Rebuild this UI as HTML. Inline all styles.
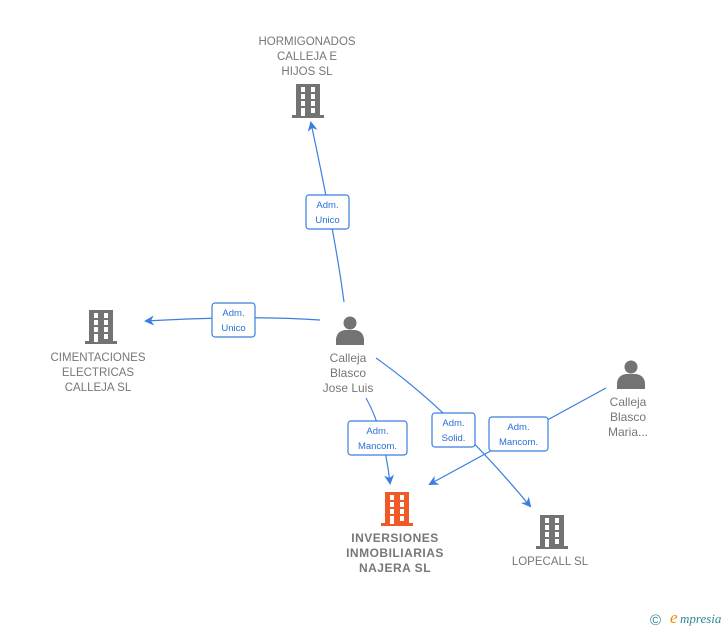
<!DOCTYPE html>
<html><head><meta charset="utf-8"><style>
html,body{margin:0;padding:0;background:#fff;width:728px;height:630px;overflow:hidden}
svg{display:block}
.t{font-family:"Liberation Sans",sans-serif;font-size:11.5px;fill:#777;text-anchor:middle}
.b{font-weight:bold;font-size:12px;letter-spacing:0.5px}
.l{font-family:"Liberation Sans",sans-serif;font-size:9.5px;fill:#2a6fd6;text-anchor:middle}
.e{fill:none;stroke:#3a7fe0;stroke-width:1.2}
.bx{fill:#fff;stroke:#3a7fe0;stroke-width:1.2}
</style></head><body>
<svg width="728" height="630" viewBox="0 0 728 630">
<defs>
<g id="bld">
<rect x="-12" y="0" width="24" height="33"/>
<rect x="-16" y="31" width="32" height="3"/>
<g fill="#fff">
<rect x="-7" y="3" width="4" height="5"/><rect x="3" y="3" width="4" height="5"/>
<rect x="-7" y="10" width="4" height="5"/><rect x="3" y="10" width="4" height="5"/>
<rect x="-7" y="17" width="4" height="5"/><rect x="3" y="17" width="4" height="5"/>
<rect x="-7" y="24" width="4" height="8"/><rect x="3" y="24" width="4" height="5"/>
</g>
</g>
<g id="per">
<circle cx="0" cy="7" r="6.5"/>
<path d="M-14,29 L-14,23 Q-13,15 -5,14 L5,14 Q13,15 14,23 L14,29 Z"/>
</g>
<marker id="a" markerWidth="10" markerHeight="10" refX="8" refY="5" orient="auto" markerUnits="userSpaceOnUse">
<path d="M0,0 L10,5 L0,10 L3,5 Z" fill="#3a7fe0"/>
</marker>
</defs>

<!-- edges -->
<path class="e" d="M344,302 Q336,240 311,123" marker-end="url(#a)"/>
<path class="e" d="M320,320 Q250,315 146,321" marker-end="url(#a)"/>
<path class="e" d="M366,398 Q384,430 390,483" marker-end="url(#a)"/>
<path class="e" d="M376,358 Q450,410 530,506" marker-end="url(#a)"/>
<path class="e" d="M606,388 Q520,435 430,484" marker-end="url(#a)"/>

<!-- labels -->
<rect class="bx" x="306" y="195" width="43" height="34" rx="3"/>
<text class="l" x="327.5" y="208">Adm.</text><text class="l" x="327.5" y="223">Unico</text>
<rect class="bx" x="212" y="303" width="43" height="34" rx="3"/>
<text class="l" x="233.5" y="316">Adm.</text><text class="l" x="233.5" y="331">Unico</text>
<rect class="bx" x="348" y="421" width="59" height="34" rx="3"/>
<text class="l" x="377.5" y="434">Adm.</text><text class="l" x="377.5" y="449">Mancom.</text>
<rect class="bx" x="432" y="413" width="43" height="34" rx="3"/>
<text class="l" x="453.5" y="426">Adm.</text><text class="l" x="453.5" y="441">Solid.</text>
<rect class="bx" x="489" y="417" width="59" height="34" rx="3"/>
<text class="l" x="518.5" y="430">Adm.</text><text class="l" x="518.5" y="445">Mancom.</text>

<!-- nodes -->
<use href="#bld" x="308" y="84" fill="#737373"/>
<text class="t" x="307" y="45">HORMIGONADOS</text>
<text class="t" x="307" y="60">CALLEJA E</text>
<text class="t" x="307" y="75">HIJOS SL</text>

<use href="#bld" x="101" y="310" fill="#737373"/>
<text class="t" x="98" y="361">CIMENTACIONES</text>
<text class="t" x="98" y="376">ELECTRICAS</text>
<text class="t" x="98" y="391">CALLEJA SL</text>

<use href="#bld" x="397" y="492" fill="#f05a28"/>
<text class="t b" x="395" y="542">INVERSIONES</text>
<text class="t b" x="395" y="557">INMOBILIARIAS</text>
<text class="t b" x="395" y="572">NAJERA  SL</text>

<use href="#bld" x="552" y="515" fill="#737373"/>
<text class="t" x="550" y="565">LOPECALL SL</text>

<use href="#per" x="350" y="316" fill="#737373"/>
<text class="t" x="348" y="362" style="font-size:12px">Calleja</text>
<text class="t" x="348" y="377" style="font-size:12px">Blasco</text>
<text class="t" x="348" y="392" style="font-size:12px">Jose Luis</text>

<use href="#per" x="631" y="360" fill="#737373"/>
<text class="t" x="628" y="406" style="font-size:12px">Calleja</text>
<text class="t" x="628" y="421" style="font-size:12px">Blasco</text>
<text class="t" x="628" y="436" style="font-size:12px">Maria...</text>

<!-- footer -->
<text x="650" y="625" style="font-family:'Liberation Sans',sans-serif;font-size:15px;fill:#2a8a9a">©</text>
<text x="670" y="623" style="font-family:'Liberation Serif',serif;font-style:italic;font-size:17px;fill:#f08a00">e</text>
<text x="680" y="623" style="font-family:'Liberation Serif',serif;font-style:italic;font-size:13px;fill:#2a8a9a">mpresia</text>
</svg>
</body></html>
